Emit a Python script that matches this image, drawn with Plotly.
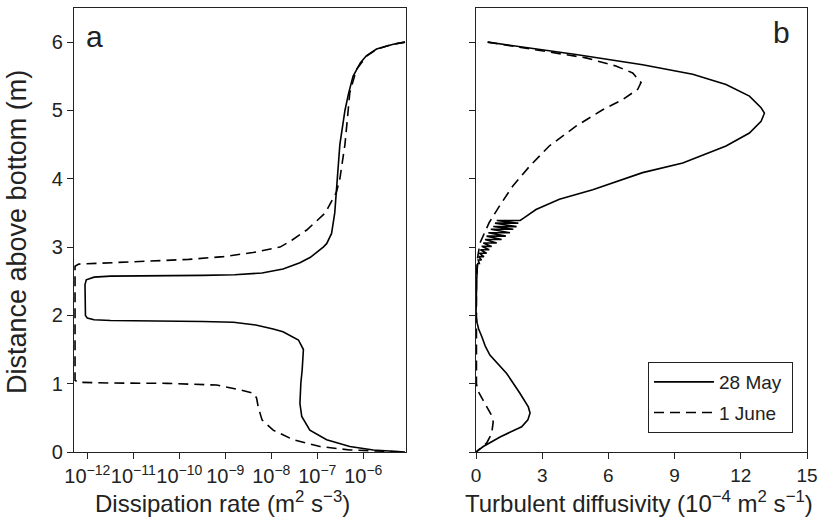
import plotly.graph_objects as go

# ---------------- data ----------------
# Panel a: dissipation rate (m2 s-3) vs distance above bottom (m)
a_may_y = [6.00, 5.97, 5.90, 5.80, 5.70, 5.50, 5.25, 5.00, 4.50, 4.00, 3.50, 3.20, 3.05, 3.00,
           2.85, 2.77, 2.68, 2.62, 2.595, 2.585, 2.58, 2.575, 2.56, 2.52, 2.45, 2.10, 2.00,
           1.96, 1.935, 1.925, 1.92, 1.91, 1.90, 1.86, 1.80, 1.76, 1.64, 1.50, 1.20, 1.01,
           0.71, 0.52, 0.32, 0.18, 0.08, 0.03, 0.00]
a_may_x = [8.1e-6, 4.5e-6, 1.95e-6, 1.17e-6, 8.7e-7, 6.0e-7, 4.8e-7, 4.0e-7, 3.1e-7, 2.75e-7,
           2.4e-7, 2.05e-7, 1.6e-7, 1.35e-7, 7.1e-8, 4.2e-8, 1.8e-8, 6.3e-9, 1.6e-9, 3.2e-10,
           3.2e-11, 3.2e-12, 1.4e-12, 9.5e-13, 8.9e-13, 8.9e-13, 9.1e-13, 1.0e-12, 1.4e-12,
           3.2e-12, 3.2e-11, 3.2e-10, 1.5e-9, 4.6e-9, 1.1e-8, 1.8e-8, 3.9e-8, 5.0e-8, 4.7e-8,
           4.4e-8, 4.2e-8, 4.6e-8, 6.9e-8, 1.6e-7, 5.1e-7, 1.66e-6, 8.1e-6]

a_june_y = [6.00, 5.97, 5.90, 5.80, 5.60, 5.26, 5.00, 4.50, 4.00, 3.80, 3.50, 3.25, 3.10, 3.00,
            2.92, 2.86, 2.82, 2.79, 2.77, 2.75, 2.72, 1.05, 1.02, 1.01, 1.005, 0.98, 0.91,
            0.86, 0.79, 0.66, 0.47, 0.32, 0.18, 0.08, 0.03, 0.00]
a_june_x = [8.1e-6, 4.5e-6, 2.0e-6, 1.2e-6, 7.1e-7, 5.1e-7, 4.7e-7, 4.0e-7, 3.1e-7, 2.6e-7,
            1.5e-7, 5.9e-8, 2.8e-8, 1.55e-8, 4.0e-9, 9.1e-10, 1.6e-10, 1.0e-11, 1.6e-12,
            6.5e-13, 5.4e-13, 5.4e-13, 6.3e-13, 3.2e-12, 5.4e-11, 6.5e-10, 2.1e-9, 4.1e-9,
            4.8e-9, 5.2e-9, 6.3e-9, 1.1e-8, 3.0e-8, 1.15e-7, 5.1e-7, 8.1e-6]

# Panel b: turbulent diffusivity (1e-4 m2 s-1) vs distance above bottom (m)
b_may_y = [6.00, 5.82, 5.67, 5.53, 5.38, 5.21, 5.04, 4.96, 4.84, 4.67, 4.48, 4.23, 4.09,
           3.84, 3.70, 3.55, 3.43,
           3.39, 3.39, 3.35, 3.35, 3.30, 3.30, 3.26, 3.26, 3.21, 3.21, 3.16, 3.16, 3.11, 3.11,
           3.06, 3.06, 3.01, 3.01, 2.96, 2.96, 2.91, 2.91, 2.86, 2.86, 2.81, 2.81, 2.76, 2.76,
           2.70, 2.50, 2.20, 2.00, 1.89, 1.80, 1.69, 1.55, 1.42, 1.15, 0.86, 0.66, 0.57, 0.47,
           0.37, 0.22, 0.08, 0.00]
b_may_x = [0.53, 4.53, 7.55, 9.82, 11.33, 12.39, 12.92, 13.07, 12.92, 12.39, 11.33, 9.37, 7.55,
           5.29, 3.78, 2.72, 2.19,
           2.00, 0.94, 1.92, 0.86, 1.84, 0.78, 1.69, 0.67, 1.54, 0.56, 1.35, 0.48, 1.16, 0.41,
           0.94, 0.33, 0.71, 0.26, 0.60, 0.20, 0.48, 0.15, 0.36, 0.12, 0.25, 0.10, 0.15, 0.08,
           0.06, 0.03, 0.01, 0.00, 0.05, 0.12, 0.26, 0.42, 0.63, 1.39, 1.99, 2.37, 2.45, 2.35,
           2.07, 1.09, 0.33, 0.00]

b_june_y = [6.00, 5.77, 5.65, 5.55, 5.41, 5.31, 5.16, 5.01, 4.77, 4.48, 4.18, 3.89, 3.60,
            3.36, 3.06, 2.80, 2.50, 1.50, 1.00, 0.90, 0.80, 0.66, 0.55, 0.44, 0.27, 0.13, 0.00]
b_june_x = [0.53, 4.98, 6.34, 7.10, 7.48, 7.33, 6.65, 5.74, 4.53, 3.32, 2.42, 1.66, 1.06,
            0.60, 0.18, 0.05, 0.02, 0.00, 0.02, 0.08, 0.25, 0.48, 0.68, 0.78, 0.71, 0.48, 0.00]

a_tickvals = [1e-12, 1e-11, 1e-10, 1e-9, 1e-8, 1e-7, 1e-6]
a_ticktext = ["10<sup>\u221212</sup>", "10<sup>\u221211</sup>", "10<sup>\u221210</sup>",
              "10<sup>\u22129</sup>", "10<sup>\u22128</sup>", "10<sup>\u22127</sup>",
              "10<sup>\u22126</sup>"]
b_tickvals = [0, 3, 6, 9, 12, 15]
y_tickvals = [0, 1, 2, 3, 4, 5, 6]

series_names = ["28 May", "1 June"]

# ---------------- figure ----------------
W, H = 823, 518
ML, MT, MB = 0, 8, 66
FONT = "Liberation Sans, Arial, Helvetica, sans-serif"
TXT = "#222"
LW = 1.6
DASH = "10px,6px"

fig = go.Figure()
fig.add_trace(go.Scatter(x=a_may_x, y=a_may_y, mode="lines", name=series_names[0] + "\u00a0",
                         line=dict(color="black", width=LW), xaxis="x", yaxis="y",
                         showlegend=True, legendgroup="g1"))
fig.add_trace(go.Scatter(x=a_june_x, y=a_june_y, mode="lines", name=series_names[1] + "\u00a0",
                         line=dict(color="black", width=LW, dash=DASH), xaxis="x", yaxis="y",
                         showlegend=True, legendgroup="g2"))
fig.add_trace(go.Scatter(x=b_may_x, y=b_may_y, mode="lines", name=series_names[0],
                         line=dict(color="black", width=LW), xaxis="x2", yaxis="y2",
                         showlegend=False, legendgroup="g1"))
fig.add_trace(go.Scatter(x=b_june_x, y=b_june_y, mode="lines", name=series_names[1],
                         line=dict(color="black", width=LW, dash=DASH), xaxis="x2", yaxis="y2",
                         showlegend=False, legendgroup="g2"))

axis_common = dict(showline=True, linecolor=TXT, linewidth=1.3, mirror=True,
                   ticks="outside", ticklen=6, tickwidth=1.2, tickcolor=TXT,
                   showgrid=False, zeroline=False, tickangle=0, automargin=False)

def tf(size):
    return dict(family=FONT, size=size, color=TXT)

def px_x(p):
    return p / W

def px_y(p):
    return (452 - p) / 444

fig.update_layout(
    width=W, height=H,
    margin=dict(l=ML, r=0, t=MT, b=MB, pad=0, autoexpand=False),
    paper_bgcolor="white", plot_bgcolor="white",
    font=dict(family=FONT, color=TXT),
    xaxis=dict(domain=[px_x(74), px_x(406)], type="log", range=[-12.29, -5.07],
               tickvals=a_tickvals, ticktext=a_ticktext, anchor="y", tickfont=tf(20),
               **axis_common),
    yaxis=dict(domain=[0, 1], range=[0, 6.5], tickvals=y_tickvals, anchor="x",
               tickfont=tf(20), **axis_common),
    xaxis2=dict(domain=[px_x(476), px_x(807)], range=[0, 15], tickvals=b_tickvals,
                anchor="y2", tickfont=tf(19), **axis_common),
    yaxis2=dict(domain=[0, 1], range=[0, 6.5], tickvals=y_tickvals, showticklabels=False,
                anchor="x2", tickfont=tf(20), **axis_common),
    legend=dict(x=px_x(793), xanchor="right", y=px_y(362), yanchor="top",
                bordercolor=TXT, borderwidth=1, bgcolor="white",
                font=tf(19), itemwidth=60, tracegroupgap=3, traceorder="grouped"),
    showlegend=True,
)

ann = [
    dict(text="a", x=px_x(84), y=px_y(36), xanchor="left", yanchor="middle", size=30),
    dict(text="b", x=px_x(792), y=px_y(32), xanchor="right", yanchor="middle", size=30),
    dict(text="Dissipation rate (m<sup>2</sup> s<sup>\u22123</sup>)", x=px_x(222),
         y=px_y(502), xanchor="center", yanchor="middle", size=24),
    dict(text="Turbulent diffusivity (10<sup>\u22124</sup> m<sup>2</sup> s<sup>\u22121</sup>)",
         x=px_x(639), y=px_y(502), xanchor="center", yanchor="middle", size=24),
]
for a in ann:
    fig.add_annotation(text=a["text"], x=a["x"], y=a["y"], xref="paper", yref="paper",
                       xanchor=a["xanchor"], yanchor=a["yanchor"], showarrow=False,
                       font=tf(a["size"]))
fig.add_annotation(text="Distance above bottom (m)", x=px_x(17), y=px_y(232),
                   xref="paper", yref="paper", textangle=-90, showarrow=False,
                   xanchor="center", yanchor="middle", font=tf(27))

fig.write_html("out.html")
